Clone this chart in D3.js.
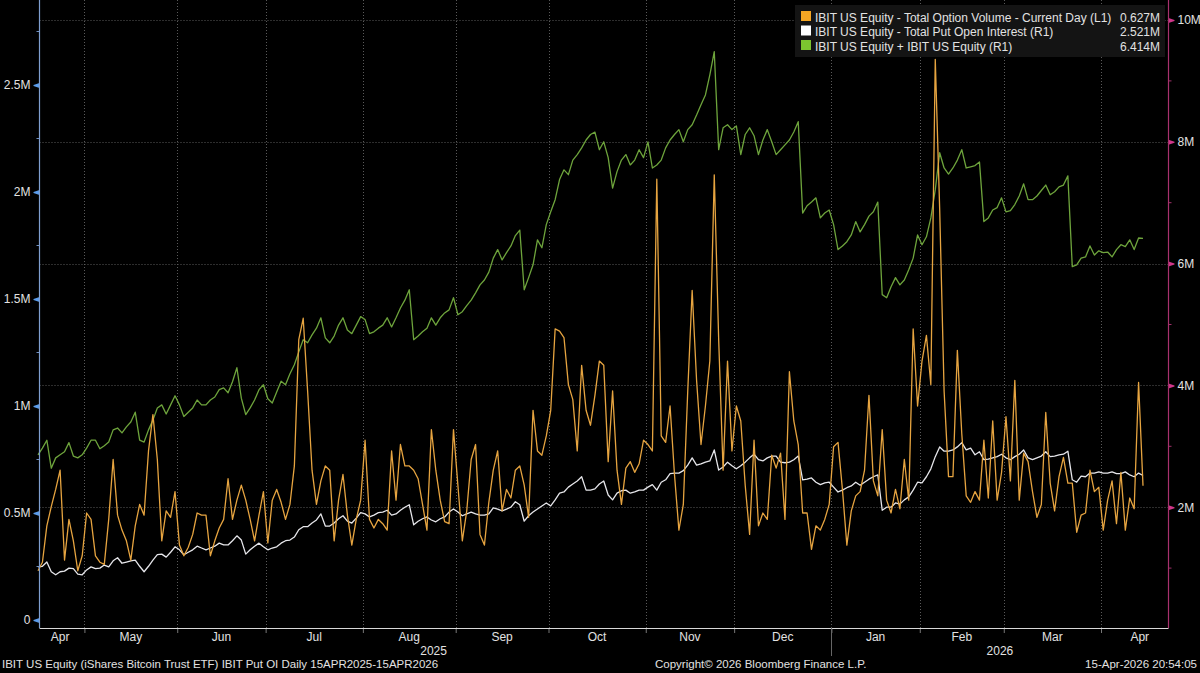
<!DOCTYPE html>
<html><head><meta charset="utf-8">
<script src="https://cdn.jsdelivr.net/npm/d3@7"></script>
<style>
html,body{margin:0;padding:0;background:#000;}
svg{display:block;}
text{font-family:"Liberation Sans",Arial,sans-serif;}
</style></head><body>
<svg id="c" width="1200" height="673"></svg>
<script>
// ---- DATA ----
const monthLabels = ["Apr","May","Jun","Jul","Aug","Sep","Oct","Nov","Dec","Jan","Feb","Mar","Apr"];
const monthStarts = [0,11,32,52,74,95,116,138,158,180,200,219,241]; // trading-day index of first day of each month
const yearLabels = ["2025","2026"];
const yearStarts = [0,180];
const leftTicks = [0,0.5,1,1.5,2,2.5];
const leftMinor = [0.25,0.75,1.25,1.75,2.25,2.75];
const rightTicks = [2,4,6,8,10];
const rightMinor = [1,3,5,7,9];

// Total Option Volume - Current Day (L1), millions
const optionVolume = [
0.23,0.27,0.44,0.53,0.61,0.70,0.28,0.47,0.37,0.23,
0.30,0.50,0.47,0.30,0.27,0.26,0.47,0.75,0.49,0.42,
0.37,0.28,0.44,0.54,0.49,0.79,0.96,0.75,0.37,0.51,
0.48,0.60,0.35,0.30,0.34,0.40,0.50,0.49,0.49,0.30,
0.37,0.43,0.47,0.66,0.47,0.56,0.63,0.56,0.47,0.37,
0.49,0.60,0.36,0.56,0.61,0.55,0.47,0.54,0.72,1.31,
1.41,1.07,0.70,0.54,0.65,0.72,0.70,0.37,0.56,0.68,
0.49,0.35,0.47,0.56,0.84,0.47,0.43,0.47,0.45,0.42,
0.79,0.56,0.82,0.72,0.72,0.70,0.66,0.54,0.42,0.89,
0.70,0.56,0.46,0.45,0.89,0.63,0.37,0.51,0.75,0.82,
0.40,0.35,0.55,0.70,0.79,0.51,0.61,0.57,0.70,0.72,
0.63,0.48,0.98,0.79,0.77,0.86,0.98,1.36,1.35,1.32,
1.10,1.03,0.79,1.19,0.98,0.91,1.05,1.21,1.19,0.74,
1.07,0.70,0.54,0.71,0.74,0.69,0.73,0.84,0.82,0.79,
2.06,0.86,0.83,1.00,0.68,0.42,0.54,1.07,1.54,1.12,
0.82,1.00,1.21,2.08,1.31,0.70,1.21,0.79,1.00,0.93,
0.63,0.40,0.84,0.44,0.50,0.47,0.77,0.71,0.78,0.47,
1.16,0.93,0.82,0.50,0.50,0.33,0.44,0.42,0.47,0.54,
0.81,0.83,0.61,0.35,0.51,0.58,0.60,0.70,1.05,0.65,
0.58,0.89,0.56,0.50,0.61,0.52,0.75,0.56,1.36,1.00,
1.21,1.33,1.10,2.62,1.92,1.07,0.67,0.67,1.26,0.87,
0.58,0.55,0.60,0.56,0.84,0.57,0.93,0.56,0.69,0.95,
0.65,1.12,0.56,0.78,0.74,0.60,0.48,0.54,0.97,0.64,
0.51,0.67,0.76,0.64,0.64,0.41,0.49,0.50,0.70,0.60,
0.62,0.42,0.56,0.65,0.45,0.69,0.42,0.57,0.52,1.11,
0.627];

// Total Put Open Interest (R1), millions
const putOI = [
1.02,1.03,1.10,0.94,0.89,0.94,0.95,1.00,0.99,0.90,
0.89,0.97,1.02,0.99,1.00,1.05,1.02,1.12,1.17,1.08,
1.10,1.12,1.13,1.03,0.94,1.03,1.13,1.22,1.23,1.18,
1.26,1.35,1.30,1.22,1.26,1.30,1.36,1.33,1.30,1.33,
1.36,1.41,1.38,1.38,1.45,1.53,1.46,1.23,1.30,1.36,
1.41,1.35,1.30,1.33,1.35,1.41,1.45,1.46,1.51,1.63,
1.68,1.68,1.74,1.79,1.89,1.69,1.69,1.74,1.81,1.86,
1.77,1.74,1.82,1.91,1.89,1.84,1.87,1.91,1.92,1.95,
1.87,1.89,1.95,2.00,2.04,1.71,1.77,1.81,1.84,1.79,
1.76,1.81,1.84,1.92,1.97,1.92,1.86,1.89,1.92,1.89,
1.87,1.87,1.89,1.99,1.97,1.94,1.97,2.00,2.09,2.04,
1.77,1.86,1.92,1.97,2.02,2.07,2.02,2.12,2.23,2.25,
2.33,2.38,2.43,2.50,2.28,2.28,2.30,2.38,2.43,2.20,
2.12,2.23,2.27,2.28,2.23,2.25,2.28,2.28,2.33,2.37,
2.28,2.41,2.45,2.55,2.56,2.56,2.60,2.69,2.81,2.69,
2.71,2.74,2.76,2.94,2.61,2.66,2.74,2.68,2.63,2.68,
2.74,2.81,2.87,2.78,2.76,2.81,2.84,2.84,2.74,2.73,
2.74,2.78,2.84,2.45,2.46,2.48,2.41,2.37,2.40,2.41,
2.33,2.25,2.28,2.32,2.35,2.41,2.36,2.41,2.46,2.50,
2.53,1.95,2.00,2.00,2.07,2.05,2.12,2.17,2.28,2.41,
2.40,2.50,2.63,2.83,2.99,2.92,2.92,2.94,2.99,3.06,
2.94,2.97,2.86,2.91,2.78,2.79,2.81,2.83,2.87,2.81,
2.78,2.83,2.87,2.94,2.81,2.78,2.81,2.84,2.91,2.83,
2.84,2.86,2.87,2.92,2.45,2.41,2.51,2.50,2.56,2.56,
2.58,2.56,2.56,2.58,2.55,2.55,2.58,2.53,2.50,2.56,
2.521];

// IBIT US Equity + IBIT US Equity (R1), millions
const totalOI = [
2.86,2.97,3.10,2.64,2.81,2.86,2.91,3.06,2.84,2.81,
2.86,2.97,3.10,3.10,2.96,3.01,3.07,3.27,3.30,3.22,
3.32,3.40,3.56,3.10,3.07,3.27,3.43,3.63,3.68,3.53,
3.68,3.83,3.68,3.49,3.56,3.63,3.76,3.68,3.68,3.76,
3.81,3.93,3.96,3.88,4.06,4.29,3.79,3.52,3.63,3.76,
3.93,4.01,3.78,3.71,3.89,4.07,4.01,4.19,4.34,4.55,
4.75,4.70,4.83,4.94,5.11,4.78,4.70,4.81,4.99,5.11,
4.91,4.85,4.99,5.13,5.08,4.85,4.88,4.94,4.99,5.11,
4.96,5.11,5.27,5.40,5.57,4.75,4.81,4.88,4.94,5.11,
4.99,5.11,5.19,5.24,5.44,5.16,5.21,5.31,5.40,5.52,
5.65,5.73,5.86,6.09,6.23,6.06,6.18,6.29,6.46,6.55,
5.57,5.77,5.98,6.39,6.26,6.64,6.85,7.05,7.38,7.54,
7.46,7.70,7.79,7.90,8.03,8.12,8.16,7.87,8.00,7.74,
7.24,7.51,7.70,7.79,7.62,7.70,7.87,7.74,8.00,7.57,
7.62,7.70,7.90,8.03,8.12,8.20,8.00,8.20,8.28,8.44,
8.61,8.77,9.10,9.48,7.87,8.23,8.28,8.20,8.26,7.79,
8.12,8.23,8.10,7.79,8.03,8.20,8.00,7.79,7.87,7.95,
8.03,8.16,8.33,6.83,6.95,7.01,7.08,6.75,6.83,6.88,
6.64,6.23,6.29,6.36,6.47,6.69,6.52,6.64,6.78,6.85,
7.01,5.49,5.44,5.62,5.77,5.65,5.73,5.90,6.09,6.47,
6.31,6.44,6.75,7.21,7.82,7.57,7.47,7.57,7.70,7.87,
7.57,7.59,7.61,7.67,6.69,6.75,6.88,6.92,7.08,6.85,
6.87,6.97,7.11,7.31,7.05,7.05,7.11,7.20,7.29,7.13,
7.18,7.26,7.29,7.44,5.95,5.98,6.09,6.11,6.29,6.14,
6.21,6.18,6.19,6.11,6.23,6.31,6.28,6.39,6.23,6.42,
6.414];

const legendNames = [
  "IBIT US Equity - Total Option Volume - Current Day (L1)",
  "IBIT US Equity - Total Put Open Interest (R1)",
  "IBIT US Equity + IBIT US Equity (R1)"
];
const legendValues = ["0.627M","2.521M","6.414M"];
const legendColors = ["#f5a623","#ffffff","#7cc42f"];
const lineColors = ["#e6a440","#e6e6ea","#6ea43c"];
const footerLeft = "IBIT US Equity (iShares Bitcoin Trust ETF) IBIT Put OI Daily 15APR2025-15APR2026";
const footerMid = "Copyright\u00A9 2026 Bloomberg Finance L.P.";
const footerRight = "15-Apr-2026 20:54:05";

// ---- LAYOUT ----
const svg = d3.select("#c");
const W = 1200, H = 673;
const plotL = 39.5, plotR = 1168.5, plotT = 0, plotB = 628;
svg.append("rect").attr("width",W).attr("height",H).attr("fill","#000");

const n = optionVolume.length;
const x = d3.scaleLinear().domain([0, n-1]).range([38, 1143]);
const yL = d3.scaleLinear().domain([0, 2.5]).range([620, 85]);
const yR = d3.scaleLinear().domain([0, 10]).range([629, 20]);

const textCol = "#e2e2e2";
const gridCol = "#5a5a5a";

// gridlines: horizontal at right ticks, vertical at month boundaries
const grid = svg.append("g");
grid.selectAll("line.h").data(rightTicks).join("line")
  .attr("x1", plotL).attr("x2", plotR)
  .attr("y1", d => Math.round(yR(d))+0.5).attr("y2", d => Math.round(yR(d))+0.5)
  .attr("stroke", gridCol).attr("stroke-width",1).attr("stroke-dasharray","1,2");
grid.selectAll("line.v").data(monthStarts.slice(1)).join("line")
  .attr("x1", d => Math.round(x(d-0.5))+0.5).attr("x2", d => Math.round(x(d-0.5))+0.5)
  .attr("y1", plotT).attr("y2", plotB)
  .attr("stroke", gridCol).attr("stroke-width",1).attr("stroke-dasharray","1,2");

// series lines
const lineL = d3.line().x((d,i)=>x(i)).y(d=>yL(d));
const lineR = d3.line().x((d,i)=>x(i)).y(d=>yR(d));
svg.append("path").datum(totalOI).attr("d",lineR).attr("fill","none")
  .attr("stroke",lineColors[2]).attr("stroke-width",1.3).attr("stroke-linejoin","round");
svg.append("path").datum(putOI).attr("d",lineR).attr("fill","none")
  .attr("stroke",lineColors[1]).attr("stroke-width",1.3).attr("stroke-linejoin","round");
svg.append("path").datum(optionVolume).attr("d",lineL).attr("fill","none")
  .attr("stroke",lineColors[0]).attr("stroke-width",1.3).attr("stroke-linejoin","round");

// left axis
const fmtM = d => d === 0 ? "0" : d + "M";
const gL = svg.append("g").attr("transform",`translate(${plotL},0)`)
  .call(d3.axisLeft(yL).tickValues(leftTicks).tickSize(0).tickPadding(9).tickFormat(fmtM));
gL.select(".domain").remove();
gL.selectAll(".tick text").attr("fill",textCol).style("font-size","12px").attr("font-family","Liberation Sans, Arial, sans-serif");
gL.selectAll(".tick").append("path").attr("d","M0,-2.5L-6,-0.5L-6,0.5L0,2.5Z").attr("fill","#5b9bea");
svg.append("g").selectAll("line").data(leftMinor).join("line")
  .attr("x1",plotL-3).attr("x2",plotL).attr("y1",d=>yL(d)).attr("y2",d=>yL(d))
  .attr("stroke","#6f8fc0").attr("stroke-width",1);
svg.append("line").attr("x1",plotL).attr("x2",plotL).attr("y1",plotT).attr("y2",plotB)
  .attr("stroke","#7f9fd0").attr("stroke-width",1.2);

// right axis
const gR = svg.append("g").attr("transform",`translate(${plotR},0)`)
  .call(d3.axisRight(yR).tickValues(rightTicks).tickSize(0).tickPadding(9).tickFormat(fmtM));
gR.select(".domain").remove();
gR.selectAll(".tick text").attr("fill",textCol).style("font-size","12px").attr("font-family","Liberation Sans, Arial, sans-serif");
gR.selectAll(".tick").append("path").attr("d","M0,-2.5L6,-0.5L6,0.5L0,2.5Z").attr("fill","#d0368a");
svg.append("g").selectAll("line").data(rightMinor).join("line")
  .attr("x1",plotR).attr("x2",plotR+3).attr("y1",d=>yR(d)).attr("y2",d=>yR(d))
  .attr("stroke","#a0306a").attr("stroke-width",1);
svg.append("line").attr("x1",plotR).attr("x2",plotR).attr("y1",plotT).attr("y2",plotB)
  .attr("stroke","#a8316e").attr("stroke-width",1.2);

// bottom axis
const gB = svg.append("g").attr("transform",`translate(0,${plotB})`)
  .call(d3.axisBottom(x).tickValues(monthStarts.slice(1).map(s=>s-0.5)).tickSize(5).tickFormat(""));
gB.select(".domain").remove();
gB.selectAll(".tick line").attr("stroke","#777");
svg.append("line").attr("x1",plotL).attr("x2",plotR).attr("y1",plotB+0.5).attr("y2",plotB+0.5)
  .attr("stroke","#d8d8d8").attr("stroke-width",1);

// month labels
const bounds = monthStarts.map(s => x(s-0.5)).concat([plotR+10]);
svg.append("g").selectAll("text").data(monthLabels).join("text")
  .attr("x",(d,i)=>(bounds[i]+bounds[i+1])/2).attr("y",641)
  .attr("text-anchor","middle").attr("fill",textCol).style("font-size","12px").text(d=>d);
// year labels
const yb = [x(yearStarts[0]-0.5), x(yearStarts[1]-0.5), plotR];
svg.append("g").selectAll("text").data(yearLabels).join("text")
  .attr("x",(d,i)=>(yb[i]+yb[i+1])/2).attr("y",655)
  .attr("text-anchor","middle").attr("fill",textCol).style("font-size","12px").text(d=>d);
svg.append("line").attr("x1",Math.round(yb[1])+0.5).attr("x2",Math.round(yb[1])+0.5)
  .attr("y1",plotB).attr("y2",656).attr("stroke","#666");

// footer
svg.append("text").attr("x",2).attr("y",668).attr("fill",textCol).style("font-size","11.5px").text(footerLeft);
svg.append("text").attr("x",655).attr("y",668).attr("fill",textCol).style("font-size","11.5px").text(footerMid);
svg.append("text").attr("x",1197).attr("y",668).attr("text-anchor","end").attr("fill",textCol).style("font-size","11.5px").text(footerRight);

// legend
const lg = svg.append("g");
lg.append("rect").attr("x",795).attr("y",5).attr("width",370).attr("height",52).attr("fill","#141414");
const rows = lg.selectAll("g.row").data(legendNames).join("g")
  .attr("transform",(d,i)=>`translate(0,${17+i*14.5})`);
rows.append("rect").attr("x",801).attr("y",-6).attr("width",10).attr("height",10)
  .attr("fill",(d,i)=>legendColors[i]);
rows.append("text").attr("x",815).attr("y",4.5).attr("fill",textCol).style("font-size","12px").text(d=>d);
rows.append("text").attr("x",1160).attr("y",4.5).attr("text-anchor","end").attr("fill",textCol)
  .style("font-size","12px").text((d,i)=>legendValues[i]);
</script>
</body></html>
